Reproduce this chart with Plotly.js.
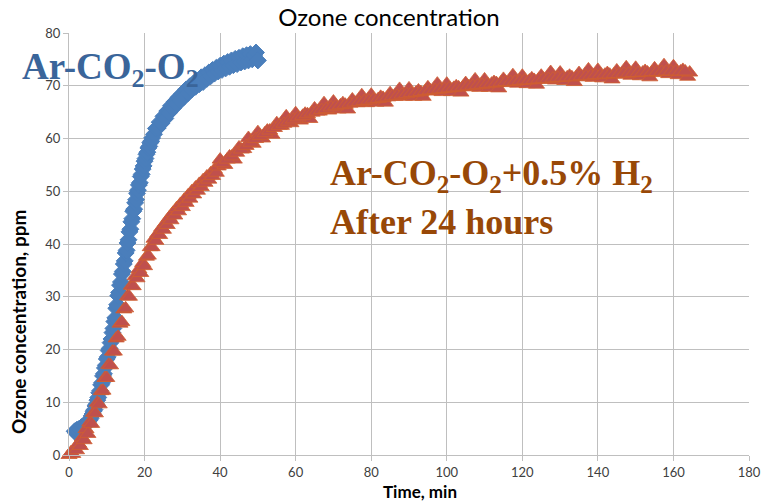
<!DOCTYPE html>
<html>
<head>
<meta charset="utf-8">
<script src="https://cdn.plot.ly/plotly-3.0.1.min.js"></script>
<style>html,body{margin:0;padding:0;background:#fff}#chart{width:761px;height:502px}</style>
</head>
<body>
<div id="chart"></div>
<script>
// Ar-CO2-O2 (blue diamonds)
var blueTime = [1.5,1.8,2.1,2.4,2.7,3.0,3.3,3.6,3.9,4.2,4.5,4.8,5.1,5.4,5.7,
  6.0,6.25,6.5,6.75,7.0,7.25,7.5,7.75,8.0,8.25,8.5,8.75,9.0,9.25,9.5,9.75,10.0,10.25,10.5,10.75,11.0,11.25,11.5,11.75,12.0,12.25,12.5,12.75,13.0,13.25,13.5,13.75,14.0,14.25,14.5,14.75,15.0,15.25,15.5,15.75,16.0,16.25,16.5,16.75,17.0,17.25,17.5,17.75,18.0,18.25,18.5,18.75,19.0,19.25,19.5,19.75,20.0,20.25,20.5,20.75,21.0,21.25,21.5,21.75,22.0,
  22.5,23.0,23.5,24.0,24.5,25.0,25.5,26.0,26.5,27.0,27.5,28.0,28.5,29.0,29.5,30.0,30.5,31.0,31.5,32.0,32.5,33.0,33.5,34.0,34.5,35.0,35.5,36.0,36.5,37.0,37.5,38.0,38.5,39.0,39.5,40.0,40.5,41.0,41.5,42.0,42.5,43.0,43.5,44.0,44.5,45.0,45.5,46.0,46.5,47.0,47.5,48.0,48.5,49.0,49.5,50.0];
var blueConc = [4.5,4.2,4.8,4.6,5.0,4.9,5.3,5.2,5.6,5.5,5.9,6.0,6.3,6.6,6.9,
  7.4,7.8,8.3,8.6,9.3,9.6,10.4,10.9,11.8,12.2,13.3,13.7,15.0,15.4,16.5,17.0,18.2,18.6,19.8,20.2,21.3,22.0,23.2,24.0,25.3,26.0,27.8,28.5,30.2,30.8,32.2,32.8,34.3,34.8,36.2,36.8,38.3,38.8,40.2,40.8,42.3,42.8,44.2,44.8,46.2,46.6,47.8,48.4,49.6,50.2,51.2,51.6,52.8,53.2,54.2,54.8,55.7,56.2,57.0,57.4,58.2,58.5,59.2,59.5,60.1,
  60.8,61.9,62.0,63.1,62.9,64.2,63.8,65.2,64.9,66.2,65.7,67.0,66.5,67.8,67.2,68.5,67.9,69.3,68.6,69.9,69.3,70.5,69.8,71.0,70.3,71.6,70.7,72.0,71.3,72.5,71.8,73.0,72.3,73.4,72.7,73.8,73.0,74.2,73.3,74.5,73.6,74.8,73.9,75.1,74.1,75.3,74.4,75.6,74.6,75.8,74.8,76.0,75.0,75.8,76.3,74.8];

// Ar-CO2-O2+0.5% H2, after 24 hours (red triangles)
var redTime = [0,0.5,1,1.5,2,2.5,3,3.5,4,4.5,5,5.5,6,6.5,7,7.5,8,8.5,9,9.5,10,10.5,11,11.5,12,12.5,13,13.5,14,14.5,15,15.5,16,16.5,17,17.5,18,18.5,19,19.5,
  20.0,20.5,21.0,21.5,22.0,22.5,23.0,23.5,24.0,24.5,25.0,25.5,26.0,26.5,27.0,27.5,28.0,28.5,29.0,29.5,30.0,30.5,31.0,31.5,32.0,32.5,33.0,33.5,34.0,34.5,35.0,35.5,36.0,36.5,37.0,37.5,38.0,38.5,39.0,39.5,
  40,41.25,42.5,43.75,45,46.25,47.5,48.75,50,51.25,52.5,53.75,55,56.25,57.5,58.75,60,61.25,62.5,63.75,65,66.25,67.5,68.75,70,71.25,72.5,73.75,75,76.25,77.5,78.75,80,81.25,82.5,83.75,85,86.25,87.5,88.75,90,91.25,92.5,93.75,95,96.25,97.5,98.75,100,101.25,102.5,103.75,105,106.25,107.5,108.75,110,111.25,112.5,113.75,115,116.25,117.5,118.75,120,121.25,122.5,123.75,125,126.25,127.5,128.75,130,131.25,132.5,133.75,135,136.25,137.5,138.75,140,141.25,142.5,143.75,145,146.25,147.5,148.75,150,151.25,152.5,153.75,155,156.25,157.5,158.75,160,161.25,162.5,163.75,164.3,
  40.625,41.875,43.125,44.375,45.625,46.875,48.125,49.375,50.625,51.875,53.125,54.375,55.625,56.875,58.125,59.375,60.625,61.875,63.125,64.375,65.625,66.875,68.125,69.375,70.625,71.875,73.125,74.375,75.625,76.875,78.125,79.375,80.625,81.875,83.125,84.375,85.625,86.875,88.125,89.375,90.625,91.875,93.125,94.375,95.625,96.875,98.125,99.375,100.625,101.875,103.125,104.375,105.625,106.875,108.125,109.375,110.625,111.875,113.125,114.375,115.625,116.875,118.125,119.375,120.625,121.875,123.125,124.375,125.625,126.875,128.125,129.375,130.625,131.875,133.125,134.375,135.625,136.875,138.125,139.375,140.625,141.875,143.125,144.375,145.625,146.875,148.125,149.375,150.625,151.875,153.125,154.375,155.625,156.875,158.125,159.375,160.625,161.875,163.125];
var redConc = [0.0,0.5,0.2,1.2,0.9,2.2,1.7,3.3,2.8,4.9,4.0,6.2,5.9,8.0,7.9,9.9,9.6,12.1,12.2,14.6,14.6,17.1,17.0,19.6,19.6,22.1,22.4,24.9,25.2,27.6,27.8,30.1,30.0,32.1,32.0,33.9,33.5,35.2,34.5,36.4,
  35.8,37.6,37.8,39.4,39.4,41.0,40.6,42.0,41.7,43.1,42.7,44.0,43.6,45.0,44.5,45.9,45.4,46.8,46.2,47.6,47.0,48.4,47.8,49.2,48.6,50.0,49.4,50.7,50.1,51.4,50.8,52.1,51.6,52.8,52.2,53.4,52.9,54.1,53.5,54.7,
  56.0,55.0,56.6,56.0,58.3,58.0,60.1,59.0,61.2,60.0,61.5,60.7,62.9,62.4,64.2,62.9,64.8,63.4,64.7,63.7,65.7,65.1,66.7,65.3,67.0,65.5,66.7,65.5,67.4,66.7,68.2,66.7,68.3,66.8,67.9,66.8,68.6,67.9,69.4,67.9,69.5,67.9,69.1,67.9,69.7,68.9,70.4,68.8,70.4,68.8,69.9,68.7,70.5,69.7,71.2,69.6,71.2,69.6,70.7,69.5,71.3,70.5,72.0,70.4,71.9,70.3,71.4,70.2,71.9,71.1,72.6,71.0,72.5,70.9,71.9,70.7,72.4,71.6,73.1,71.5,73.0,71.4,72.4,71.2,72.9,72.1,73.5,71.9,73.4,71.8,72.8,71.6,73.3,72.4,73.9,72.2,73.7,72.0,73.0,71.7,72.5,
  55.3,56.0,56.6,57.3,57.9,58.6,59.2,59.9,60.5,61.0,61.5,62.0,62.4,62.8,63.2,63.6,64.0,64.3,64.6,64.9,65.1,65.4,65.6,65.9,66.1,66.3,66.4,66.6,66.8,66.9,67.1,67.2,67.4,67.5,67.7,67.8,68.0,68.1,68.3,68.4,68.6,68.7,68.8,69.0,69.1,69.2,69.3,69.4,69.5,69.6,69.7,69.8,69.9,70.0,70.1,70.2,70.3,70.4,70.5,70.6,70.7,70.7,70.8,70.9,71.0,71.0,71.1,71.2,71.3,71.3,71.4,71.5,71.5,71.6,71.6,71.7,71.8,71.8,71.9,72.0,72.0,72.1,72.1,72.2,72.2,72.3,72.3,72.4,72.4,72.5,72.5,72.6,72.6,72.6,72.7,72.7,72.7,72.7,72.7];

var xTicks = [0,20,40,60,80,100,120,140,160,180];
var yTicks = [0,10,20,30,40,50,60,70,80];

var L = 69, R = 749, T = 33, B = 455, W = 761, H = 502;
function px(xp){ return (xp - L) / (R - L); }
function py(yp){ return (B - yp) / (B - T); }

var traces = [
  {
    x: blueTime, y: blueConc, type: 'scatter', mode: 'markers', name: 'Ar-CO2-O2',
    cliponaxis: false,
    marker: {symbol: 'diamond', size: 13, color: '#4a7ebb', line: {color: '#4a7ebb', width: 1}}
  },
  {
    x: redTime, y: redConc, type: 'scatter', mode: 'markers', name: 'Ar-CO2-O2+0.5% H2',
    cliponaxis: false,
    marker: {symbol: 'triangle-up', size: 14, color: '#c0504d', line: {color: '#d0602e', width: 0.8}}
  }
];

var axisCommon = {
  showgrid: true, gridcolor: '#bfbfbf', gridwidth: 1,
  showline: true, linecolor: '#bfbfbf', linewidth: 1,
  ticks: 'outside', ticklen: 5, tickcolor: '#bfbfbf',
  zeroline: false,
  tickfont: {family: 'Lato, sans-serif', size: 13, color: '#404040'}
};

var layout = {
  width: W, height: H,
  paper_bgcolor: '#ffffff', plot_bgcolor: '#ffffff',
  margin: {l: L, r: W - R, t: T, b: H - B, pad: 0},
  showlegend: false,
  title: {
    text: 'Ozone concentration',
    font: {family: 'Lato, sans-serif', size: 24, color: '#000000'},
    x: 389 / W, xref: 'container', xanchor: 'center',
    y: 1 - 18 / H, yref: 'container', yanchor: 'middle'
  },
  xaxis: Object.assign({}, axisCommon, {range: [0, 180], tickvals: xTicks, ticktext: xTicks.map(String)}),
  yaxis: Object.assign({}, axisCommon, {range: [0, 80], tickvals: yTicks, ticktext: yTicks.map(String)}),
  annotations: [
    {text: 'Ozone concentration, ppm', textangle: -90, xref: 'paper', yref: 'paper',
     x: px(18), y: py(322), xanchor: 'center', yanchor: 'middle', showarrow: false,
     font: {family: 'Lato, sans-serif', size: 19, color: '#000000', weight: 'bold'}},
    {text: 'Time, min', xref: 'paper', yref: 'paper',
     x: px(420), y: py(491), xanchor: 'center', yanchor: 'middle', showarrow: false,
     font: {family: 'Lato, sans-serif', size: 17, color: '#000000', weight: 'bold'}},
    {text: 'Ar-CO<sub>2</sub>-O<sub>2</sub>', xref: 'paper', yref: 'paper',
     x: px(20), y: py(70), xanchor: 'left', yanchor: 'middle', showarrow: false,
     font: {family: 'Liberation Serif, serif', size: 37, color: '#3a659a', weight: 'bold'}},
    {text: 'Ar-CO<sub>2</sub>-O<sub>2</sub>+0.5% H<sub>2</sub>', xref: 'paper', yref: 'paper',
     x: px(328), y: py(175), xanchor: 'left', yanchor: 'middle', showarrow: false,
     font: {family: 'Liberation Serif, serif', size: 36, color: '#984807', weight: 'bold'}},
    {text: 'After 24 hours', xref: 'paper', yref: 'paper',
     x: px(328), y: py(222), xanchor: 'left', yanchor: 'middle', showarrow: false,
     font: {family: 'Liberation Serif, serif', size: 36, color: '#984807', weight: 'bold'}}
  ]
};

Plotly.newPlot('chart', traces, layout, {displayModeBar: false, staticPlot: true});
</script>
</body>
</html>
